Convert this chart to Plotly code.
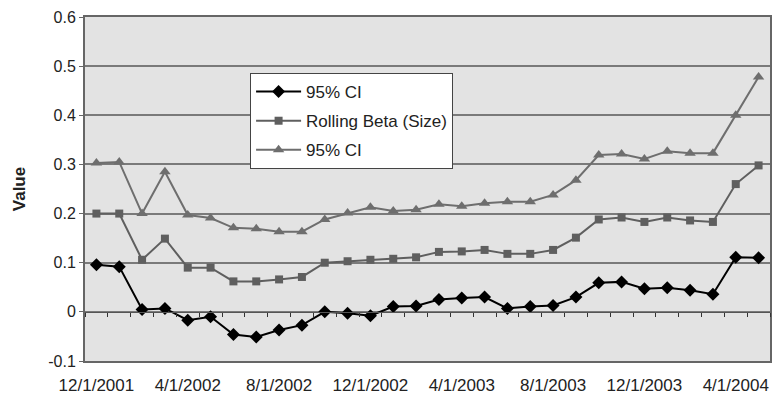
import plotly.graph_objects as go

# monthly dates, 12/1/2001 .. 5/1/2004
dates = []
for i in range(30):
    m = 12 + i
    y = 2001 + (m - 1) // 12
    mm = (m - 1) % 12 + 1
    dates.append(f"{mm}/1/{y}")

tick_labels = ["12/1/2001", "4/1/2002", "8/1/2002", "12/1/2002",
               "4/1/2003", "8/1/2003", "12/1/2003", "4/1/2004"]

y_ticks = [-0.1, 0, 0.1, 0.2, 0.3, 0.4, 0.5, 0.6]
y_tick_text = ["-0.1", "0", "0.1", "0.2", "0.3", "0.4", "0.5", "0.6"]

ci_low = [0.096, 0.092, 0.005, 0.007, -0.017, -0.010, -0.046, -0.051, -0.037, -0.027,
          0.000, -0.003, -0.008, 0.011, 0.012, 0.025, 0.028, 0.030, 0.007, 0.011,
          0.013, 0.030, 0.059, 0.061, 0.047, 0.049, 0.044, 0.036, 0.111, 0.110]

beta_size = [0.200, 0.200, 0.106, 0.149, 0.090, 0.090, 0.062, 0.062, 0.066, 0.071,
             0.100, 0.103, 0.106, 0.108, 0.111, 0.122, 0.123, 0.126, 0.118, 0.118,
             0.126, 0.151, 0.188, 0.192, 0.183, 0.192, 0.186, 0.183, 0.260, 0.298]

ci_high = [0.303, 0.305, 0.200, 0.285, 0.197, 0.191, 0.171, 0.169, 0.163, 0.163,
           0.188, 0.201, 0.213, 0.205, 0.208, 0.219, 0.215, 0.221, 0.224, 0.224,
           0.238, 0.268, 0.319, 0.321, 0.311, 0.327, 0.323, 0.323, 0.400, 0.478]

fig = go.Figure()

fig.add_trace(go.Scatter(x=dates, y=ci_low, name="95% CI", mode="lines+markers",
                         legendgroup="a",
                         line=dict(color="#000000", width=2),
                         marker=dict(symbol="diamond", size=10, color="#000000")))
fig.add_trace(go.Scatter(x=dates, y=beta_size, name="Rolling Beta (Size)", mode="lines+markers",
                         legendgroup="b",
                         line=dict(color="#5f5f5f", width=2),
                         marker=dict(symbol="square", size=8, color="#5f5f5f")))
fig.add_trace(go.Scatter(x=dates, y=ci_high, name="95% CI", mode="lines+markers",
                         legendgroup="c",
                         line=dict(color="#6e6e6e", width=2),
                         marker=dict(symbol="triangle-up", size=10, color="#6e6e6e")))

# invisible trace carrying the category axis drawn through y = 0
fig.add_trace(go.Scatter(x=dates, y=[0] * len(dates), xaxis="x2", mode="lines",
                         line=dict(width=0), showlegend=False, hoverinfo="skip"))

fig.update_layout(
    width=772, height=394,
    margin=dict(l=85, r=2, t=17, b=33),
    paper_bgcolor="white",
    plot_bgcolor="#e3e3e3",
    font=dict(family="Arial, Liberation Sans, sans-serif", size=15, color="#222222"),
    showlegend=True,
    legend=dict(x=0.241, y=0.837, xanchor="left", yanchor="top",
                bgcolor="white", bordercolor="#444444", borderwidth=1,
                font=dict(size=17), tracegroupgap=4, itemwidth=45),
    xaxis=dict(type="category", range=[-0.5, 29.5], automargin=False,
               tickmode="array", tickvals=tick_labels, ticktext=tick_labels,
               ticks="outside", ticklen=8, tickcolor="rgba(0,0,0,0)",
               showgrid=False, showline=True, linecolor="#666666",
               linewidth=2, mirror=True, tickfont=dict(size=17)),
    xaxis2=dict(type="category", range=[-0.5, 29.5], overlaying="x",
                anchor="free", position=1 / 7, side="bottom",
                tickmode="array", tickvals=dates, tickson="boundaries",
                ticks="outside", ticklen=4, tickcolor="#333333",
                showticklabels=False, showgrid=False,
                showline=True, linecolor="#555555", linewidth=1),
    yaxis=dict(range=[-0.1, 0.6], automargin=False,
               tickmode="array", tickvals=y_ticks, ticktext=y_tick_text,
               ticks="outside", ticklen=4, tickcolor="#666666",
               showgrid=True, gridcolor="#7a7a7a", gridwidth=1.5,
               zeroline=False, showline=True, linecolor="#666666",
               linewidth=2, mirror=True,
               title=dict(text="<b>Value</b>", font=dict(size=17), standoff=18),
               tickfont=dict(size=16)),
)

# drop the page's default body margin so the figure sits at the window's corner
fig.write_html("out.html", config={"displayModeBar": False},
               post_script="document.body.style.margin='0';document.body.style.overflow='hidden';")
